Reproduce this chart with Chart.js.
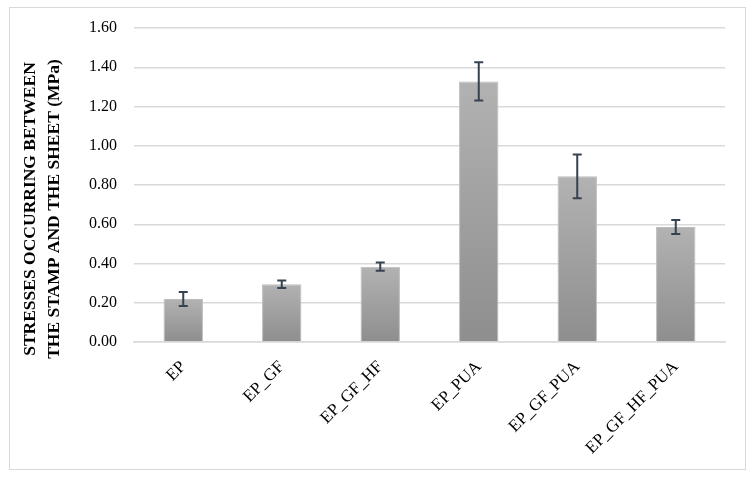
<!DOCTYPE html>
<html>
<head>
<meta charset="utf-8">
<script src="https://cdn.jsdelivr.net/npm/chart.js@4.4.1/dist/chart.umd.min.js"></script>
<style>
  html, body { margin: 0; padding: 0; background: #ffffff; }
  #wrap { position: relative; width: 756px; height: 480px; }
  #frame { position: absolute; left: 9px; top: 7px; width: 735px; height: 461px; border: 1.5px solid #d9d9d9; }
  canvas { position: absolute; left: 0; top: 0; }
</style>
</head>
<body>
<div id="wrap">
  <div id="frame"></div>
  <canvas id="c" width="756" height="480"></canvas>
</div>
<script>
const categories = ['EP', 'EP_GF', 'EP_GF_HF', 'EP_PUA', 'EP_GF_PUA', 'EP_GF_HF_PUA'];
const stressValues = [0.219, 0.294, 0.384, 1.328, 0.844, 0.586];
const stressErrors = [0.036, 0.019, 0.021, 0.098, 0.111, 0.036];
const yTitleLines = ['STRESSES OCCURRING BETWEEN', 'THE STAMP AND THE SHEET (MPa)'];

const FONT = "'Liberation Serif', 'Times New Roman', serif";

function barGradient(context) {
  const chart = context.chart;
  const area = chart.chartArea;
  if (!area || context.type !== 'data') return '#a0a0a0';
  const y = chart.scales.y;
  const v = context.parsed ? context.parsed.y : stressValues[context.dataIndex];
  const top = y.getPixelForValue(v);
  const bottom = y.getPixelForValue(0);
  const g = chart.ctx.createLinearGradient(0, top, 0, bottom);
  g.addColorStop(0, '#b2b2b2');
  g.addColorStop(1, '#8e8e8e');
  return g;
}

const errorBarPlugin = {
  id: 'errorBars',
  afterDatasetsDraw(chart) {
    const ctx = chart.ctx;
    const y = chart.scales.y;
    const meta = chart.getDatasetMeta(0);
    ctx.save();
    ctx.strokeStyle = '#36424f';
    ctx.lineWidth = 2;
    meta.data.forEach((bar, i) => {
      const x = bar.x;
      const yt = y.getPixelForValue(stressValues[i] + stressErrors[i]);
      const yb = y.getPixelForValue(stressValues[i] - stressErrors[i]);
      const cap = 4.5;
      ctx.beginPath();
      ctx.moveTo(x, yt); ctx.lineTo(x, yb);
      ctx.moveTo(x - cap, yt); ctx.lineTo(x + cap, yt);
      ctx.moveTo(x - cap, yb); ctx.lineTo(x + cap, yb);
      ctx.stroke();
    });
    ctx.restore();
  }
};

const yTitlePlugin = {
  id: 'yTitle',
  afterDraw(chart) {
    const ctx = chart.ctx;
    ctx.save();
    ctx.fillStyle = '#000000';
    ctx.font = "bold 17.5px " + FONT;
    ctx.textAlign = 'center';
    ctx.textBaseline = 'middle';
    const cy = 209;
    const xs = [30, 54];
    yTitleLines.forEach((line, i) => {
      ctx.save();
      ctx.translate(xs[i], cy);
      ctx.rotate(-Math.PI / 2);
      ctx.fillText(line, 0, 0);
      ctx.restore();
    });
    ctx.restore();
  }
};

new Chart(document.getElementById('c'), {
  type: 'bar',
  data: {
    labels: categories,
    datasets: [{
      data: stressValues,
      backgroundColor: barGradient,
      borderColor: '#bcbcbc',
      borderWidth: 1,
      categoryPercentage: 1.0,
      barPercentage: 0.4
    }]
  },
  options: {
    responsive: false,
    animation: false,
    devicePixelRatio: 1,
    layout: { padding: { top: 28, right: 31, bottom: 0, left: 0 } },
    plugins: {
      legend: { display: false },
      tooltip: { enabled: false }
    },
    scales: {
      x: {
        grid: { display: false, drawTicks: false },
        border: { display: true, color: '#d9d9d9', width: 1.5 },
        ticks: {
          color: '#000000',
          font: { family: FONT, size: 17 },
          maxRotation: 45,
          minRotation: 45,
          padding: 15
        },
        afterFit(scale) { scale.height = 138; }
      },
      y: {
        min: 0,
        max: 1.6,
        grid: { color: '#d9d9d9', lineWidth: 1.5, drawTicks: false },
        border: { display: false },
        ticks: {
          stepSize: 0.2,
          color: '#000000',
          font: { family: FONT, size: 16 },
          padding: 17,
          callback: (v) => Number(v).toFixed(2)
        },
        afterFit(scale) { scale.width = 134; }
      }
    }
  },
  plugins: [errorBarPlugin, yTitlePlugin]
});
</script>
</body>
</html>
